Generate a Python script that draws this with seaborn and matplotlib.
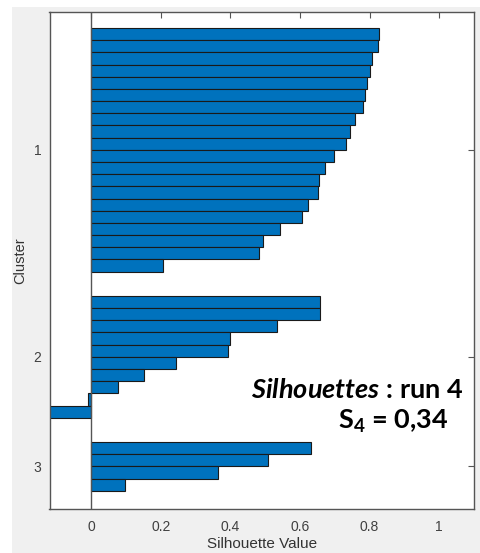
import matplotlib
matplotlib.use("Agg")
import matplotlib.pyplot as plt
import seaborn as sns
import numpy as np
import pandas as pd
from matplotlib.patches import Rectangle

# ---- data ----
cluster_names = ["1", "2", "3"]
cluster1 = [0.828, 0.825, 0.807, 0.801, 0.792, 0.788, 0.781, 0.759, 0.743, 0.731,
            0.698, 0.673, 0.654, 0.652, 0.622, 0.607, 0.542, 0.493, 0.482, 0.207]
cluster2 = [0.658, 0.658, 0.533, 0.399, 0.394, 0.244, 0.153, 0.076, -0.010, -0.120]
cluster3 = [0.632, 0.509, 0.363, 0.098]
x_ticks = [0, 0.2, 0.4, 0.6, 0.8, 1]
x_ticklabels = ["0", "0.2", "0.4", "0.6", "0.8", "1"]
annot_line1 = r"$\mathit{Silhouettes}$ : run 4"
annot_line2 = r"S$_4$ = 0,34"

# ---- build positions (gap of 2 slots between clusters) ----
rows = []
tick_pos = []
pos = 1
for name, vals in zip(cluster_names, [cluster1, cluster2, cluster3]):
    p = list(range(pos, pos + len(vals)))
    tick_pos.append(np.mean(p))
    for pp, v in zip(p, vals):
        rows.append({"pos": pp, "value": v, "cluster": name})
    pos = p[-1] + 3
df = pd.DataFrame(rows)

sns.set_style("white")
plt.rcParams["font.family"] = ["Liberation Sans", "DejaVu Sans"]
plt.rcParams["mathtext.fontset"] = "custom"
plt.rcParams["mathtext.rm"] = "Lato:bold"
plt.rcParams["mathtext.it"] = "Lato:bold:italic"
plt.rcParams["mathtext.bf"] = "Lato:bold"

W, H = 481, 553
fig = plt.figure(figsize=(W / 100, H / 100), dpi=100, facecolor="white")
# gray figure panel like MATLAB
fig.patches.append(Rectangle((12 / W, 0), 1 - 12 / W, (H - 7) / H,
                             transform=fig.transFigure, facecolor="#F0F0F0",
                             edgecolor="none", zorder=-10))

ax = fig.add_axes([49.5 / W, (H - 509) / H, (474 - 49.5) / W, 497.5 / H])
ax.set_facecolor("white")

sns.barplot(data=df, x="value", y="pos", orient="h", native_scale=True,
            width=1.0, color="#0072BD", saturation=1, edgecolor="#1a1a1a",
            linewidth=0.8, ax=ax, errorbar=None)

ax.axvline(0, color="#555555", lw=1.0, zorder=1)

ax.set_xlim(-0.12, 1.1)
ax.set_ylim(40.0, -0.86)
ax.set_xticks(x_ticks)
ax.set_xticklabels(x_ticklabels)
ax.set_yticks(tick_pos)
ax.set_yticklabels(cluster_names)
ax.tick_params(axis="both", direction="in", length=4, width=0.8, colors="#555555",
               labelcolor="#404040", labelsize=10, top=True, right=True)
ax.tick_params(axis="x", pad=8)
ax.tick_params(axis="y", pad=6)
for s in ax.spines.values():
    s.set_visible(True)
    s.set_color("#555555")
    s.set_linewidth(1.0)

ax.set_xlabel("Silhouette Value", fontsize=11, color="#333333", labelpad=2)
ax.set_ylabel("Cluster", fontsize=10.5, color="#333333", labelpad=4)

ax.text(463 / W, (H - 390) / H, annot_line1, transform=fig.transFigure,
        ha="right", va="center", fontsize=19.5, fontweight="bold",
        family=["Lato", "DejaVu Sans"], color="black")
ax.text(449 / W, (H - 421) / H, annot_line2, transform=fig.transFigure,
        ha="right", va="center", fontsize=19.5, fontweight="bold",
        family=["Lato", "DejaVu Sans"], color="black")

fig.savefig("out.png", dpi=100, facecolor=fig.get_facecolor())
